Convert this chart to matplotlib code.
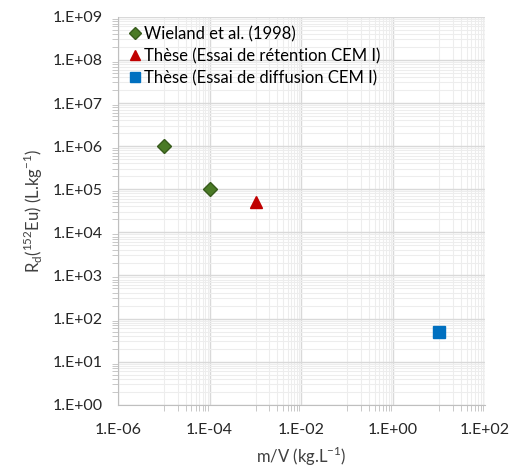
import numpy as np
import matplotlib
matplotlib.use('Agg')
import matplotlib.pyplot as plt
from matplotlib.ticker import LogLocator, FuncFormatter, NullFormatter

plt.rcParams['font.family'] = ['Lato', 'DejaVu Sans']

# donnees
wieland_x = [1e-5, 1e-4]
wieland_y = [1e6, 1e5]
retention_x = [1e-3]
retention_y = [5e4]
diffusion_x = [10]
diffusion_y = [50]

labels = ['Wieland et al. (1998)',
          'Thèse (Essai de rétention CEM I)',
          'Thèse (Essai de diffusion CEM I)']


def fmt_exp(v, pos):
    e = int(round(np.log10(v)))
    return '1.E{:+03d}'.format(e)


fig, ax = plt.subplots(figsize=(5.10, 4.68), dpi=100)
fig.subplots_adjust(left=0.231, right=0.951, top=0.964, bottom=0.135)

ax.plot(wieland_x, wieland_y, 'D', color='#4a7a26', mec='#375b1c', ms=7, ls='none', label=labels[0], zorder=3)
ax.plot(retention_x, retention_y, '^', color='#c00000', ms=8.5, ls='none', label=labels[1], zorder=3)
ax.plot(diffusion_x, diffusion_y, 's', color='#0070c0', ms=8, ls='none', label=labels[2], zorder=3)

ax.set_xscale('log')
ax.set_yscale('log')
ax.set_xlim(1e-6, 1e2)
ax.set_ylim(1e0, 1e9)

ax.xaxis.set_major_locator(LogLocator(base=100, numticks=10))
ax.xaxis.set_minor_locator(LogLocator(base=100, subs=np.arange(10, 100, 10), numticks=10))
ax.yaxis.set_major_locator(LogLocator(base=10, numticks=20))
ax.yaxis.set_minor_locator(LogLocator(base=10, subs=np.arange(2, 10), numticks=20))
ax.xaxis.set_major_formatter(FuncFormatter(fmt_exp))
ax.yaxis.set_major_formatter(FuncFormatter(fmt_exp))
ax.xaxis.set_minor_formatter(NullFormatter())
ax.yaxis.set_minor_formatter(NullFormatter())

ax.grid(which='major', color='#d9d9d9', lw=1.0)
ax.grid(which='minor', color='#ededed', lw=0.8)
ax.set_axisbelow(True)

for s in ['top', 'right']:
    ax.spines[s].set_visible(False)
for s in ['left', 'bottom']:
    ax.spines[s].set_color('#bfbfbf')
ax.tick_params(which='both', colors='#bfbfbf', labelcolor='#262626', labelsize=11.5)
ax.tick_params(which='major', length=0)
ax.tick_params(axis='x', which='major', pad=13)
ax.tick_params(axis='y', which='major', pad=11)
ax.tick_params(which='minor', length=4)

ax.set_xlabel(r'm/V (kg.L$^\mathregular{-1}$)', fontsize=12, color='#404040', labelpad=6)
ax.set_ylabel(r'R$_\mathregular{d}$($^\mathregular{152}$Eu) (L.kg$^\mathregular{-1}$)',
              fontsize=12, color='#404040', labelpad=5)

ax.legend(loc='upper left', frameon=False, fontsize=12, handletextpad=0.05,
          handlelength=1.0, borderaxespad=0.15, labelspacing=0.35,
          bbox_to_anchor=(0.0, 1.0), markerscale=0.9)

fig.savefig('out.png', dpi=100)
